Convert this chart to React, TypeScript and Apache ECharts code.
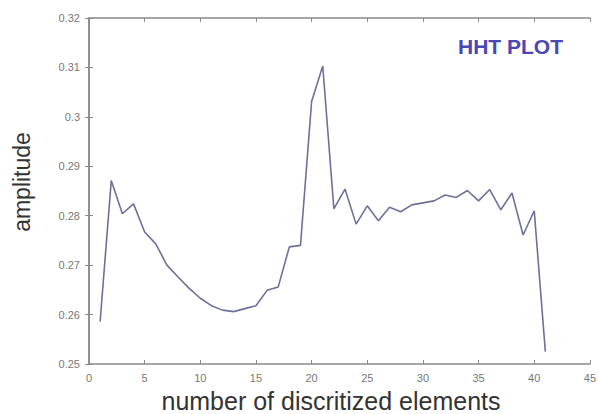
import React, { useEffect, useRef } from "react";
import * as echarts from "echarts";

const elements = [
  1, 2, 3, 4, 5, 6, 7, 8, 9, 10, 11, 12, 13, 14, 15, 16, 17, 18, 19, 20, 21,
  22, 23, 24, 25, 26, 27, 28, 29, 30, 31, 32, 33, 34, 35, 36, 37, 38, 39, 40, 41,
];
const amplitude = [
  0.2586, 0.2871, 0.2804, 0.2824, 0.2767, 0.2743, 0.27, 0.2676, 0.2653, 0.2633,
  0.2618, 0.2609, 0.2606, 0.2612, 0.2618, 0.2649, 0.2656, 0.2737, 0.274, 0.3031,
  0.3103, 0.2814, 0.2854, 0.2783, 0.282, 0.279, 0.2817, 0.2808, 0.2822, 0.2826,
  0.283, 0.2842, 0.2837, 0.2851, 0.283, 0.2853, 0.2812, 0.2846, 0.2761, 0.281,
  0.2525,
];
const yTickLabels: Record<string, string> = {
  "0.25": "0.25",
  "0.26": "0.26",
  "0.27": "0.27",
  "0.28": "0.28",
  "0.29": "0.29",
  "0.3": "0.3",
  "0.31": "0.31",
  "0.32": "0.32",
};
const titleText = "HHT PLOT";
const xName = "number of discritized elements";
const yName = "amplitude";

export default function App() {
  const ref = useRef<HTMLDivElement>(null);
  useEffect(() => {
    if (!ref.current) return;
    const chart = echarts.init(ref.current, null, { renderer: "svg" });
    const frame = "#8a8a8a";
    const tickLabel = { color: "#777", fontSize: 11, fontFamily: "Liberation Sans, Arial, sans-serif" };
    chart.setOption({
      animation: false,
      backgroundColor: "#ffffff",
      grid: { left: 89, right: 8, top: 18, bottom: 50 },
      xAxis: [
        {
          type: "value",
          min: 0,
          max: 45,
          interval: 5,
          axisLine: { show: true, onZero: false, lineStyle: { color: frame, width: 1.5 } },
          axisTick: { show: true, inside: true, length: 4, lineStyle: { color: frame } },
          axisLabel: { ...tickLabel, margin: 8 },
          splitLine: { show: false },
        },
        {
          type: "value",
          position: "top",
          min: 0,
          max: 45,
          interval: 5,
          axisLine: { show: true, lineStyle: { color: frame, width: 1.5 } },
          axisTick: { show: true, inside: true, length: 4, lineStyle: { color: frame } },
          axisLabel: { show: false },
          splitLine: { show: false },
        },
      ],
      yAxis: [
        {
          type: "value",
          min: 0.25,
          max: 0.32,
          interval: 0.01,
          axisLine: { show: true, onZero: false, lineStyle: { color: frame, width: 1.5 } },
          axisTick: { show: true, inside: true, length: 4, lineStyle: { color: frame } },
          axisLabel: {
            ...tickLabel,
            margin: 9,
            formatter: (v: number) => yTickLabels[String(Math.round(v * 100) / 100)] ?? "",
          },
          splitLine: { show: false },
        },
        {
          type: "value",
          position: "right",
          min: 0.25,
          max: 0.32,
          interval: 0.01,
          axisLine: { show: true, lineStyle: { color: frame, width: 1.5 } },
          axisTick: { show: true, inside: true, length: 4, lineStyle: { color: frame } },
          axisLabel: { show: false },
          splitLine: { show: false },
        },
      ],
      series: [
        {
          type: "line",
          data: elements.map((x, i) => [x, amplitude[i]]),
          showSymbol: false,
          lineStyle: { color: "#6f6f9c", width: 1.6 },
          xAxisIndex: 0,
          yAxisIndex: 0,
        },
      ],
      graphic: [
        {
          type: "text",
          left: 458,
          top: 36,
          style: {
            text: titleText,
            fill: "#4b47b4",
            font: "bold 21px 'Liberation Sans', Arial, sans-serif",
          },
        },
        {
          type: "text",
          x: 331,
          y: 401,
          style: {
            text: xName,
            fill: "#333",
            font: "25px 'Liberation Sans', Arial, sans-serif",
            align: "center",
            verticalAlign: "middle",
          },
        },
        {
          type: "text",
          x: 22,
          y: 182,
          rotation: Math.PI / 2,
          style: {
            text: yName,
            fill: "#333",
            font: "23px 'Liberation Sans', Arial, sans-serif",
            align: "center",
            verticalAlign: "middle",
          },
        },
      ],
    });
    return () => chart.dispose();
  }, []);
  return (
    <div
      ref={ref}
      style={{ position: "fixed", left: 0, top: 0, width: 599, height: 414 }}
    />
  );
}
